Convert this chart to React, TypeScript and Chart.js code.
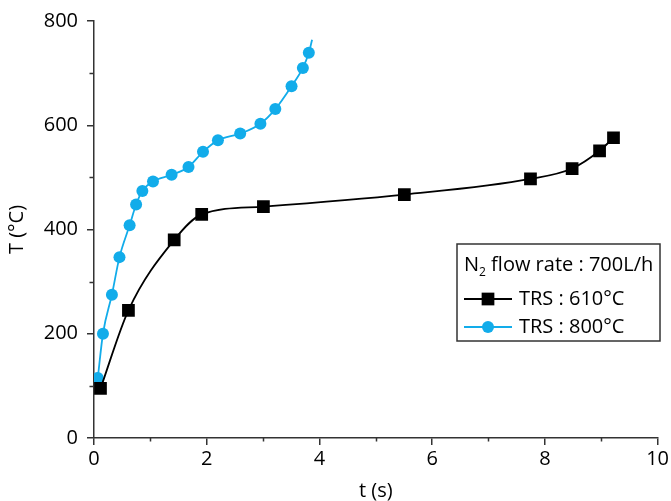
import React, { useEffect, useRef } from "react";
import { Chart, registerables } from "chart.js";

Chart.register(...registerables);

// ---- data ----
const trs610T: number[] = [0.115, 0.611, 1.423, 1.911, 3.006, 5.507, 7.745, 8.484, 8.971, 9.218];
const trs610V: number[] = [95, 245, 380, 429, 444, 467, 497, 517, 551, 576];

const trs800T: number[] = [0.067, 0.159, 0.318, 0.452, 0.632, 0.747, 0.858, 1.047, 1.377, 1.677, 1.934, 2.199, 2.594, 2.953, 3.217, 3.505, 3.706, 3.812, 3.87];
const trs800V: number[] = [115, 200, 275, 347, 408, 448, 474, 492, 505, 520, 549, 571, 584, 603, 631, 675, 710, 739, 764];
// last blue value is the line's end beyond the final marker (no marker)
const trs800Marked: boolean[] = trs800T.map((_, i) => i < trs800T.length - 1);

const xMajorTicks: number[] = [0, 2, 4, 6, 8, 10];
const xMinorTicks: number[] = [1, 3, 5, 7, 9];
const yMajorTicks: number[] = [0, 200, 400, 600, 800];
const yMinorTicks: number[] = [100, 300, 500, 700];

const legendTitleMain = "N";
const legendTitleSub = "2";
const legendTitleRest = " flow rate : 700L/h";
const seriesLabels: string[] = ["TRS : 610°C", "TRS : 800°C"];
const xTitle = "t (s)";
const yTitle = "T (°C)";

const BLACK = "#000000";
const BLUE = "#12acea";
const AXIS = "#333333";
const TEXT = "#000000";
const FONT = "'Open Sans', 'Noto Sans', sans-serif";
const FS = 20;

const overlayPlugin = {
  id: "overlay",
  afterDraw(chart: any) {
    const { ctx, chartArea } = chart;
    const xs = chart.scales.x;
    const ys = chart.scales.y;
    ctx.save();
    ctx.strokeStyle = AXIS;
    ctx.lineWidth = 1.5;
    ctx.beginPath();
    for (const v of xMinorTicks) {
      const px = Math.round(xs.getPixelForValue(v)) + 0.5;
      ctx.moveTo(px, chartArea.bottom);
      ctx.lineTo(px, chartArea.bottom + 3.5);
    }
    for (const v of yMinorTicks) {
      const py = Math.round(ys.getPixelForValue(v)) + 0.5;
      ctx.moveTo(chartArea.left - 4.5, py);
      ctx.lineTo(chartArea.left, py);
    }
    ctx.stroke();

    // legend box
    const bx = 457, by = 244, bw = 203, bh = 97;
    ctx.fillStyle = "#ffffff";
    ctx.fillRect(bx, by, bw, bh);
    ctx.strokeStyle = "#333333";
    ctx.lineWidth = 1.5;
    ctx.strokeRect(bx, by, bw, bh);

    ctx.fillStyle = TEXT;
    ctx.textBaseline = "middle";
    ctx.textAlign = "left";
    ctx.font = `${FS}px ${FONT}`;
    let tx = 464;
    const ty = 265;
    ctx.fillText(legendTitleMain, tx, ty);
    tx += ctx.measureText(legendTitleMain).width;
    ctx.font = `${12}px ${FONT}`;
    ctx.fillText(legendTitleSub, tx, ty + 8);
    tx += ctx.measureText(legendTitleSub).width;
    ctx.font = `${FS}px ${FONT}`;
    ctx.fillText(legendTitleRest, tx, ty);

    const rows = [
      { y: 299, color: BLACK, style: "rect", r: 9 },
      { y: 327, color: BLUE, style: "circle", r: 6 },
    ];
    rows.forEach((row, i) => {
      ctx.strokeStyle = row.color;
      ctx.lineWidth = 2;
      ctx.beginPath();
      ctx.moveTo(464, row.y);
      ctx.lineTo(512, row.y);
      ctx.stroke();
      ctx.fillStyle = row.color;
      ctx.beginPath();
      if (row.style === "rect") {
        const s = row.r * Math.SQRT1_2;
        ctx.rect(488 - s, row.y - s, 2 * s, 2 * s);
      } else {
        ctx.arc(488, row.y, row.r, 0, Math.PI * 2);
      }
      ctx.fill();
      ctx.fillStyle = TEXT;
      ctx.font = `${FS}px ${FONT}`;
      ctx.fillText(seriesLabels[i], 519, row.y);
    });
    ctx.restore();
  },
};

export default function App() {
  const canvasRef = useRef<HTMLCanvasElement | null>(null);

  useEffect(() => {
    document.body.style.margin = "0";
    const canvas = canvasRef.current;
    if (!canvas) return;
    const chart = new Chart(canvas, {
      type: "line",
      data: {
        datasets: [
          {
            label: seriesLabels[0],
            data: trs610T.map((t, i) => ({ x: t, y: trs610V[i] })),
            borderColor: BLACK,
            backgroundColor: BLACK,
            borderWidth: 1.8,
            pointStyle: "rect",
            pointRadius: 9,
            pointHoverRadius: 9,
            pointBorderWidth: 0,
            cubicInterpolationMode: "monotone",
          },
          {
            label: seriesLabels[1],
            data: trs800T.map((t, i) => ({ x: t, y: trs800V[i] })),
            borderColor: BLUE,
            backgroundColor: BLUE,
            borderWidth: 1.8,
            pointStyle: "circle",
            pointRadius: trs800Marked.map((m) => (m ? 6 : 0)),
            pointHoverRadius: 6,
            pointBorderWidth: 0,
            cubicInterpolationMode: "monotone",
          },
        ],
      },
      options: {
        animation: false,
        responsive: false,
        maintainAspectRatio: false,
        layout: { padding: { left: 0, top: 19, right: 12, bottom: 0 } },
        plugins: { legend: { display: false }, tooltip: { enabled: false } },
        scales: {
          x: {
            type: "linear",
            min: 0,
            max: 10,
            afterFit: (s: any) => {
              s.height = 63;
            },
            afterBuildTicks: (s: any) => {
              s.ticks = xMajorTicks.map((v) => ({ value: v }));
            },
            ticks: {
              color: TEXT,
              font: { family: FONT, size: FS },
              padding: 2,
              maxRotation: 0,
            },
            grid: { drawOnChartArea: false, drawTicks: true, tickLength: 7, color: AXIS, lineWidth: 1.5 },
            border: { display: true, color: AXIS, width: 1.5 },
            title: {
              display: true,
              text: xTitle,
              color: TEXT,
              font: { family: FONT, size: FS, lineHeight: 1 },
              padding: { top: 0, bottom: 0 },
            },
          },
          y: {
            type: "linear",
            min: 0,
            max: 800,
            afterFit: (s: any) => {
              s.width = 94;
            },
            afterBuildTicks: (s: any) => {
              s.ticks = yMajorTicks.map((v) => ({ value: v }));
            },
            ticks: {
              color: TEXT,
              font: { family: FONT, size: FS },
              padding: 9,
            },
            grid: { drawOnChartArea: false, drawTicks: true, tickLength: 7, color: AXIS, lineWidth: 1.5 },
            border: { display: true, color: AXIS, width: 1.5 },
            title: {
              display: true,
              text: yTitle,
              color: TEXT,
              font: { family: FONT, size: FS, lineHeight: 1.2 },
              padding: { top: 5, bottom: 0 },
            },
          },
        },
      },
      plugins: [overlayPlugin],
    } as any);
    return () => chart.destroy();
  }, []);

  return (
    <div style={{ position: "absolute", left: 0, top: 0, width: 671, height: 501 }}>
      <canvas ref={canvasRef} width={671} height={501} style={{ width: 671, height: 501 }} />
    </div>
  );
}
